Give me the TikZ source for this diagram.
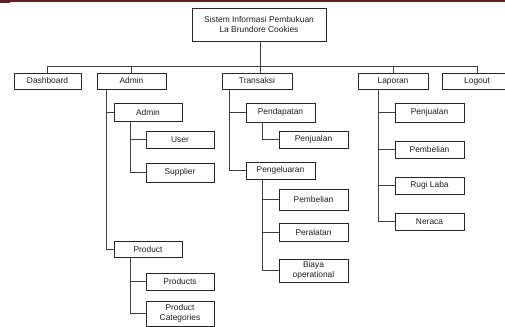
\documentclass[tikz,border=0pt]{standalone}
\usepackage{fontspec}
\setmainfont{Liberation Sans}
\definecolor{barred}{HTML}{6A1F1F}
\definecolor{boxline}{HTML}{262626}
\definecolor{linegray}{HTML}{3C3C3C}
\definecolor{textgray}{HTML}{1E1E1E}
\tikzset{
  box/.style={draw=boxline, line width=0.65pt, fill=white, inner sep=0pt, outer sep=0pt,
    align=center, text=textgray, font=\fontsize{6.3}{7.5}\selectfont},
  conn/.style={draw=linegray, line width=0.6pt}
}
\newcommand\bx[6]{\node[box,minimum width={(#4-#2)*0.75pt},minimum height={(#5-#3)*0.75pt}] (#1) at ({(#2+#4)/2},{(#3+#5)/2}) {#6};}
\begin{document}
\begin{tikzpicture}[x=0.75pt,y=-0.75pt]
\useasboundingbox (0,0) rectangle (505,327);
\fill[white] (0,0) rectangle (505,327);
\fill[barred] (0,0) rectangle (505,2);
\fill[barred] (0,0) rectangle (10,2.8);

% top
\bx{top}{192}{8}{326}{41}{Sistem Informasi Pembukuan\\La Brundore Cookies}
% level 1
\bx{dash}{14}{73}{81}{89}{Dashboard}
\bx{admin}{97}{73}{166}{89}{Admin}
\bx{trans}{222}{73}{292}{89}{Transaksi}
\bx{lap}{358}{73}{428}{89}{Laporan}
\bx{logout}{442}{73}{512}{89}{Logout}

% admin subtree
\bx{asub}{114}{103}{182}{121}{Admin}
\bx{user}{146}{131}{214}{148}{User}
\bx{supp}{146}{163}{214}{182}{Supplier}
\bx{prod}{114}{241}{182}{257}{Product}
\bx{prods}{146}{273}{214}{290}{Products}
\bx{pcat}{146}{301}{214}{326}{Product\\Categories}

% transaksi subtree
\bx{pend}{246}{103}{315}{122}{Pendapatan}
\bx{tjual}{279}{131}{348}{148}{Penjualan}
\bx{peng}{246}{162}{315}{179}{Pengeluaran}
\bx{tbeli}{279}{189}{348}{210}{Pembelian}
\bx{alat}{279}{223}{348}{241}{Peralatan}
\bx{biaya}{279}{259}{348}{282}{Biaya\\operational}

% laporan subtree
\bx{ljual}{395}{103}{464}{122}{Penjualan}
\bx{lbeli}{395}{141}{464}{158}{Pembelian}
\bx{rugi}{395}{177}{464}{194}{Rugi Laba}
\bx{neraca}{395}{213}{464}{230}{Neraca}

% connectors
\coordinate (bus) at (260,66);
\coordinate (tA) at (106,0);
\coordinate (tAs) at (130,0);
\coordinate (tT) at (229,0);
\coordinate (tP) at (262,0);
\coordinate (tL) at (378,0);

\draw[conn] (top.south -| bus) -- (trans.north -| bus);
\draw[conn] (bus) -| (dash.north);
\draw[conn] (bus) -| (admin.north);
\draw[conn] (bus) -| (lap.north);
\draw[conn] (bus) -| (logout.north);

\draw[conn] (admin.south -| tA) |- (asub.west);
\draw[conn] (admin.south -| tA) |- (prod.west);
\draw[conn] (asub.south -| tAs) |- (user.west);
\draw[conn] (asub.south -| tAs) |- (supp.west);
\draw[conn] (prod.south -| tAs) |- (prods.west);
\draw[conn] (prod.south -| tAs) |- (pcat.west);

\draw[conn] (trans.south -| tT) |- (pend.west);
\draw[conn] (trans.south -| tT) |- (peng.west);
\draw[conn] (pend.south -| tP) |- (tjual.west);
\draw[conn] (peng.south -| tP) |- (tbeli.west);
\draw[conn] (peng.south -| tP) |- (alat.west);
\draw[conn] (peng.south -| tP) |- (biaya.west);

\draw[conn] (lap.south -| tL) |- (ljual.west);
\draw[conn] (lap.south -| tL) |- (lbeli.west);
\draw[conn] (lap.south -| tL) |- (rugi.west);
\draw[conn] (lap.south -| tL) |- (neraca.west);
\end{tikzpicture}
\end{document}
